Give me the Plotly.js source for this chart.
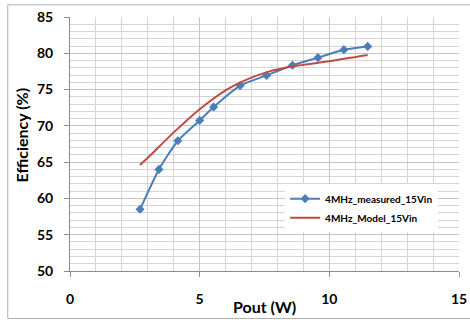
<!DOCTYPE html>
<html>
<head>
<meta charset="utf-8">
<script src="https://cdn.plot.ly/plotly-3.0.1.min.js"></script>
<style>html,body{margin:0;padding:0;background:#fff;}#chart{width:470px;height:320px;}</style>
</head>
<body>
<div id="chart"></div>
<script>
// Measured efficiency (4 MHz, 15 Vin)
const measuredPout = [2.70, 3.43, 4.16, 5.00, 5.54, 6.56, 7.58, 8.58, 9.56, 10.56, 11.48];
const measuredEff  = [58.5, 64.0, 67.95, 70.75, 72.6, 75.55, 76.95, 78.35, 79.4, 80.5, 80.95];
// Model efficiency (4 MHz, 15 Vin)
const modelPout = [2.70, 3.0, 4.0, 5.0, 6.0, 6.9, 7.6, 8.6, 10.0, 11.48];
const modelEff  = [64.6, 65.6, 69.1, 72.3, 74.9, 76.5, 77.4, 78.2, 78.9, 79.75];
const xTicks = [0, 5, 10, 15];
const yTicks = [50, 55, 60, 65, 70, 75, 80, 85];
const seriesNames = ['4MHz_measured_15Vin', '4MHz_Model_15Vin'];
const xTitle = 'Pout (W)';
const yTitle = 'Efficiency (%)';

const FONT = 'Lato, "Liberation Sans", sans-serif';

const traces = [
  {
    x: measuredPout, y: measuredEff, name: seriesNames[0],
    type: 'scatter', mode: 'lines+markers',
    line: {color: '#4a7ebb', width: 2, shape: 'spline', smoothing: 0.6},
    marker: {symbol: 'diamond', size: 7, color: '#4a7ebb'}
  },
  {
    x: modelPout, y: modelEff, name: seriesNames[1],
    type: 'scatter', mode: 'lines',
    line: {color: '#be4b48', width: 2, shape: 'spline', smoothing: 0.8}
  }
];

const layout = {
  width: 470, height: 320,
  margin: {l: 70, r: 11, t: 17, b: 49},
  paper_bgcolor: '#ffffff', plot_bgcolor: '#ffffff',
  font: {family: FONT, color: '#000'},
  showlegend: true,
  legend: {
    x: 0.553, y: 0.342, xanchor: 'left', yanchor: 'top',
    bgcolor: '#ffffff', borderwidth: 0,
    font: {family: FONT, size: 10, color: '#000', weight: 'bold'},
    tracegroupgap: 0, itemwidth: 30
  },
  xaxis: {
    range: [0, 15], tickvals: xTicks, ticktext: xTicks.map(String),
    showgrid: true, gridcolor: '#c4c4c4', gridwidth: 1,
    minor: {dtick: 1, showgrid: true, gridcolor: '#d4d4d4', gridwidth: 1},
    showline: true, linecolor: '#8c8c8c', linewidth: 1,
    ticks: 'outside', ticklen: 5, tickcolor: '#8c8c8c',
    ticklabelstandoff: 10,
    zeroline: false,
    tickfont: {family: FONT, size: 14, color: '#000', weight: 'bold'}
  },
  yaxis: {
    range: [50, 85], tickvals: yTicks, ticktext: yTicks.map(String),
    showgrid: true, gridcolor: '#c4c4c4', gridwidth: 1,
    minor: {dtick: 1, showgrid: true, gridcolor: '#d4d4d4', gridwidth: 1},
    showline: true, linecolor: '#8c8c8c', linewidth: 1,
    ticks: 'outside', ticklen: 5, tickcolor: '#8c8c8c',
    ticklabelstandoff: 8,
    zeroline: false,
    tickfont: {family: FONT, size: 14, color: '#000', weight: 'bold'}
  },
  annotations: [
    {text: xTitle, xref: 'paper', yref: 'paper', x: 0.5, y: -0.141,
     xanchor: 'center', yanchor: 'middle', showarrow: false,
     font: {family: FONT, size: 16, color: '#000', weight: 'bold'}},
    {text: yTitle, xref: 'paper', yref: 'paper', x: -0.125, y: 0.535,
     xanchor: 'center', yanchor: 'middle', showarrow: false, textangle: -90,
     font: {family: FONT, size: 16, color: '#000', weight: 'bold'}}
  ],
  shapes: [
    {type: 'rect', xref: 'paper', yref: 'paper', x0: -0.16, x1: 1.03, y0: -0.187, y1: 1.048,
     line: {color: '#b0b0b0', width: 1}, fillcolor: 'rgba(0,0,0,0)', layer: 'below'}
  ]
};

Plotly.newPlot('chart', traces, layout, {displayModeBar: false, staticPlot: true});
</script>
</body>
</html>
